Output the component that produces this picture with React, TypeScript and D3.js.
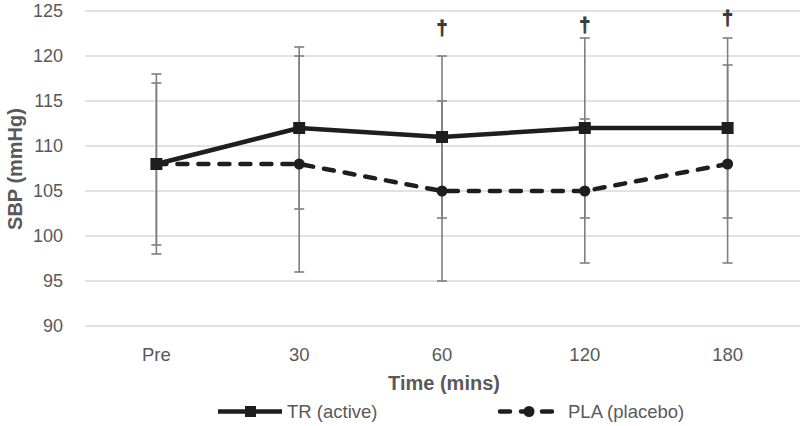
import React from "react";
import * as d3 from "d3";

const categories = ["Pre", "30", "60", "120", "180"];
const trMean = [108, 112, 111, 112, 112];
const trErr = [10, 9, 9, 10, 10];
const plaMean = [108, 108, 105, 105, 108];
const plaErr = [9, 12, 10, 8, 11];
const yTicks = [90, 95, 100, 105, 110, 115, 120, 125];
const daggerCats = ["60", "120", "180"];
const daggerLevel = [123.1, 123.5, 124.2];

const W = 800;
const H = 426;
const FONT = "'Liberation Sans', Arial, sans-serif";
const LINE = "#1e1e1e";
const ERR = "#7f7f7f";
const TXT = "#595959";

export default function App() {
  const x = d3.scalePoint<string>().domain(categories).range([85, 799]).padding(0.5);
  const y = d3.scaleLinear().domain([90, 125]).range([326, 11]);
  const line = d3
    .line<number>()
    .x((_, i) => x(categories[i]) as number)
    .y((d) => y(d));

  const errBars = (means: number[], errs: number[], key: string) =>
    means.map((m, i) => {
      const cx = x(categories[i]) as number;
      const y1 = y(m + errs[i]);
      const y2 = y(m - errs[i]);
      return (
        <g key={key + i} stroke={ERR} strokeWidth={1.6}>
          <line x1={cx} x2={cx} y1={y1} y2={y2} />
          <line x1={cx - 5} x2={cx + 5} y1={y1} y2={y1} />
          <line x1={cx - 5} x2={cx + 5} y1={y2} y2={y2} />
        </g>
      );
    });

  return (
    <svg
      width={W}
      height={H}
      style={{ position: "absolute", left: 0, top: 0, background: "#fff" }}
      fontFamily={FONT}
    >
      <rect width={W} height={H} fill="#fff" />
      {yTicks.map((t) => (
        <g key={t}>
          <line x1={85} x2={800} y1={y(t)} y2={y(t)} stroke="#d9d9d9" strokeWidth={1.5} />
          <text x={63} y={y(t)} dy="0.35em" textAnchor="end" fontSize={18} fill={TXT}>
            {t}
          </text>
        </g>
      ))}
      {categories.map((c) => (
        <text key={c} x={x(c) as number} y={361} textAnchor="middle" fontSize={18.5} fill={TXT}>
          {c}
        </text>
      ))}
      <text
        transform={`translate(15,169) rotate(-90)`}
        textAnchor="middle"
        dy="0.35em"
        fontSize={20}
        fontWeight="bold"
        fill={TXT}
      >
        SBP (mmHg)
      </text>
      <text x={444} y={390} textAnchor="middle" fontSize={20} fontWeight="bold" fill={TXT}>
        Time (mins)
      </text>

      {errBars(trMean, trErr, "tr")}
      {errBars(plaMean, plaErr, "pla")}

      <path
        d={line(plaMean) || ""}
        fill="none"
        stroke={LINE}
        strokeWidth={4.5}
        strokeDasharray="10,11"
        strokeLinecap="round"
      />
      <path d={line(trMean) || ""} fill="none" stroke={LINE} strokeWidth={4.5} strokeLinejoin="round" />
      {trMean.map((m, i) => (
        <rect
          key={"s" + i}
          x={(x(categories[i]) as number) - 6}
          y={y(m) - 6}
          width={12}
          height={12}
          fill={LINE}
        />
      ))}
      {plaMean.map((m, i) => (
        <circle key={"c" + i} cx={x(categories[i]) as number} cy={y(m)} r={5.5} fill={LINE} />
      ))}

      {daggerCats.map((c, i) => (
        <text
          key={"d" + c}
          x={x(c) as number}
          y={y(daggerLevel[i])}
          dy="0.35em"
          textAnchor="middle"
          fontSize={20}
          fontWeight="bold"
          fill="#3a3a3a"
          stroke="#3a3a3a"
          strokeWidth={0.8}
        >
          †
        </text>
      ))}

      {/* legend */}
      <g>
        <line x1={218} x2={282} y1={411.5} y2={411.5} stroke={LINE} strokeWidth={4.5} />
        <rect x={245} y={406} width={11} height={11} fill={LINE} />
        <text x={287} y={411.5} dy="0.35em" fontSize={18.5} fill={TXT}>
          TR (active)
        </text>
        <line
          x1={500}
          x2={556}
          y1={411.5}
          y2={411.5}
          stroke={LINE}
          strokeWidth={4.5}
          strokeDasharray="10,11"
          strokeLinecap="round"
        />
        <circle cx={529} cy={411.5} r={5.5} fill={LINE} />
        <text x={568} y={411.5} dy="0.35em" fontSize={18.5} fill={TXT}>
          PLA (placebo)
        </text>
      </g>
    </svg>
  );
}
